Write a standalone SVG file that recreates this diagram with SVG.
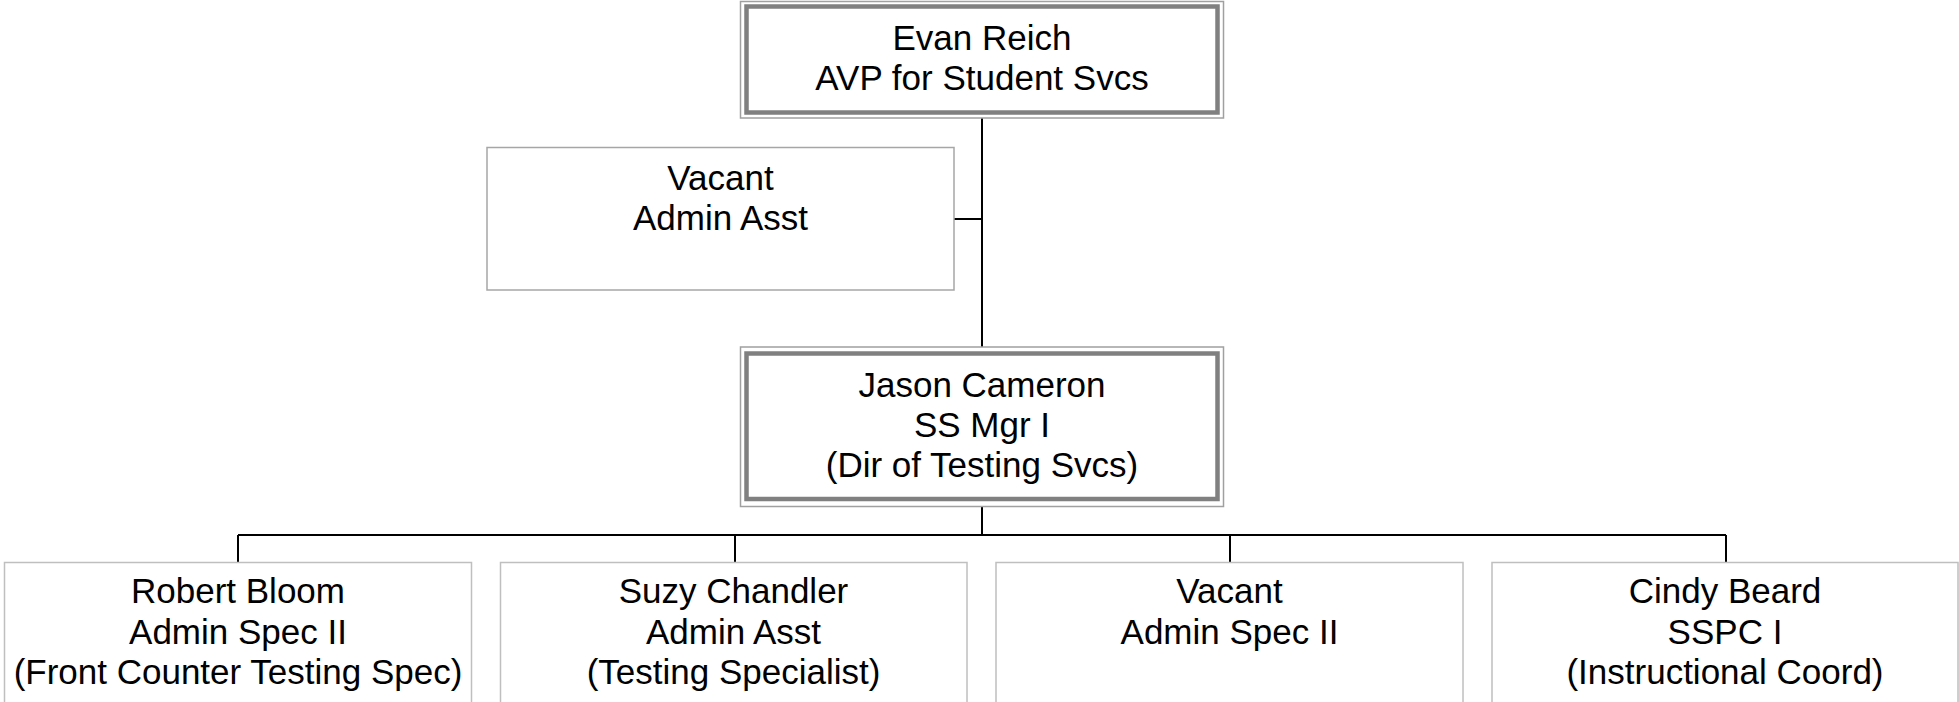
<svg xmlns="http://www.w3.org/2000/svg" width="1959" height="702" viewBox="0 0 1959 702">
<style>
.bg{fill:#ffffff}
.outer{fill:#ffffff;stroke:#a0a0a0;stroke-width:1.5}
.thick{fill:none;stroke:#808080;stroke-width:4.5}
.box{fill:#ffffff;stroke:#a6a6a6;stroke-width:1.5}
.box2{fill:#ffffff;stroke:#bfbfbf;stroke-width:1.5}
.t{font-family:"Liberation Sans",Arial,sans-serif;font-size:35px;fill:#000;text-anchor:middle}
.c{fill:none;stroke:#000;stroke-width:2}
</style>
<rect class="bg" x="0" y="0" width="1959" height="702"/>
<g id="connectors">
<path class="c" d="M982,118 V347"/>
<path class="c" d="M954,219 H982"/>
<path class="c" d="M982,507 V535"/>
<path class="c" d="M238,535 H1726"/>
<path class="c" d="M238,535 V562 M735,535 V562 M1230,535 V562 M1726,535 V562"/>
</g>
<g id="evan">
<rect class="outer" x="740.5" y="1.5" width="483" height="116.5"/>
<rect class="thick" x="746.5" y="6.5" width="471" height="106"/>
<text class="t" x="982" y="50">Evan Reich</text>
<text class="t" x="982" y="90">AVP for Student Svcs</text>
</g>
<g id="vacant-asst">
<rect class="box" x="487" y="147.5" width="467" height="142.5"/>
<text class="t" x="720.5" y="189.5">Vacant</text>
<text class="t" x="720.5" y="229.5">Admin Asst</text>
</g>
<g id="jason">
<rect class="outer" x="740.5" y="347" width="483" height="159.5"/>
<rect class="thick" x="746.5" y="353.5" width="471" height="145.5"/>
<text class="t" x="982" y="397">Jason Cameron</text>
<text class="t" x="982" y="437">SS Mgr I</text>
<text class="t" x="982" y="477">(Dir of Testing Svcs)</text>
</g>
<g id="robert">
<rect class="box2" x="4.5" y="562.5" width="467" height="160"/>
<text class="t" x="238" y="603">Robert Bloom</text>
<text class="t" x="238" y="644">Admin Spec II</text>
<text class="t" x="238" y="684">(Front Counter Testing Spec)</text>
</g>
<g id="suzy">
<rect class="box2" x="500.5" y="562.5" width="466.5" height="160"/>
<text class="t" x="733.5" y="603">Suzy Chandler</text>
<text class="t" x="733.5" y="644">Admin Asst</text>
<text class="t" x="733.5" y="684">(Testing Specialist)</text>
</g>
<g id="vacant-spec">
<rect class="box2" x="996" y="562.5" width="467" height="160"/>
<text class="t" x="1229.5" y="603">Vacant</text>
<text class="t" x="1229.5" y="644">Admin Spec II</text>
</g>
<g id="cindy">
<rect class="box2" x="1492" y="562.5" width="466" height="160"/>
<text class="t" x="1725" y="603">Cindy Beard</text>
<text class="t" x="1725" y="644">SSPC I</text>
<text class="t" x="1725" y="684">(Instructional Coord)</text>
</g>
</svg>
